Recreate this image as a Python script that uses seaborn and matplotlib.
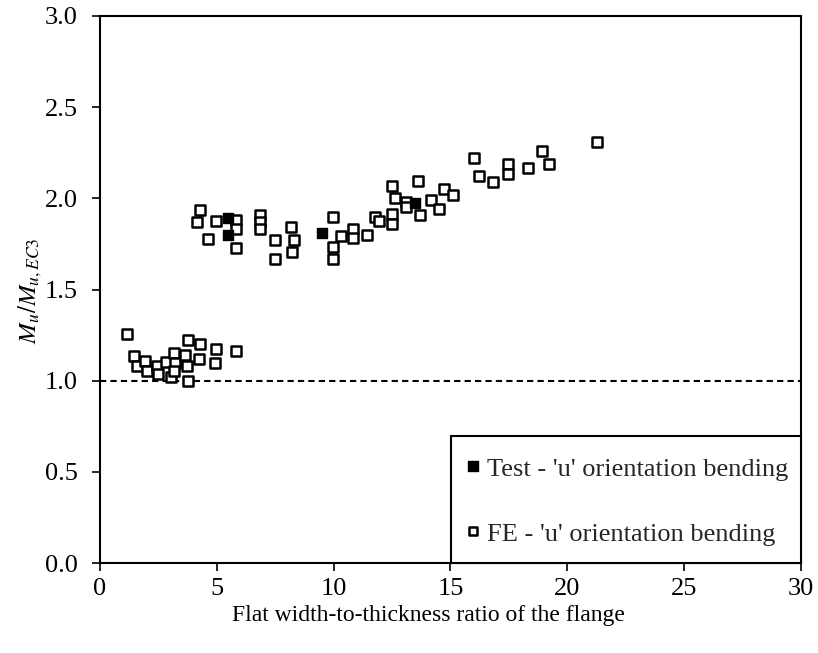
import matplotlib
matplotlib.use("Agg")
import matplotlib.pyplot as plt
import seaborn as sns
import pandas as pd

# Finite-element results: flat width-to-thickness ratio vs. Mu/Mu,EC3
fe_x = [1.14, 1.45, 1.58, 1.93, 2.03, 2.46, 2.47, 2.82, 3.15, 3.02, 3.20, 3.18,
        3.66, 3.75, 3.72, 3.77, 4.28, 4.24, 4.96, 4.92, 5.81,
        4.28, 4.14, 4.96, 4.64, 5.82, 5.82, 5.82, 6.85, 6.85, 6.85, 7.49, 7.47,
        8.17, 8.31, 8.20, 9.98, 9.98, 9.98, 10.31, 10.84, 10.81, 11.44, 11.77,
        11.93, 12.48, 12.48, 12.48, 12.62, 13.09, 13.10, 13.62, 13.69, 14.16,
        14.52, 14.72, 15.12, 16.00, 16.23, 16.83, 17.47, 17.47, 18.31, 18.92,
        19.23, 21.28]
fe_y = [1.255, 1.137, 1.083, 1.110, 1.055, 1.083, 1.037, 1.105, 1.152, 1.020, 1.097, 1.055,
        1.140, 1.225, 1.080, 0.998, 1.200, 1.117, 1.172, 1.095, 1.163,
        1.936, 1.869, 1.876, 1.776, 1.882, 1.830, 1.726, 1.906, 1.868, 1.832, 1.770, 1.665,
        1.845, 1.772, 1.705, 1.900, 1.735, 1.666, 1.794, 1.830, 1.785, 1.800, 1.900,
        1.876, 1.916, 1.862, 2.065, 2.000, 1.980, 1.950, 2.095, 1.910, 1.990,
        1.940, 2.050, 2.020, 2.220, 2.125, 2.088, 2.190, 2.132, 2.165, 2.258,
        2.190, 2.310]

# Experimental results
test_x = [5.46, 5.46, 9.49, 13.48]
test_y = [1.891, 1.800, 1.809, 1.975]

series_labels = ["Test - 'u' orientation bending", "FE - 'u' orientation bending"]
x_label = "Flat width-to-thickness ratio of the flange"
y_label = r"$M_u/M_{u,EC3}$"
x_ticks = [0, 5, 10, 15, 20, 25, 30]
y_ticks = [0.0, 0.5, 1.0, 1.5, 2.0, 2.5, 3.0]
reference_ratio = 1.0

sns.set_theme(style="white")
plt.rcParams["font.family"] = ["Liberation Serif", "DejaVu Serif"]
plt.rcParams["mathtext.fontset"] = "stix"

fe_df = pd.DataFrame({"ratio": fe_x, "moment": fe_y})
test_df = pd.DataFrame({"ratio": test_x, "moment": test_y})

fig = plt.figure(figsize=(8.18, 6.53), dpi=100)
ax = fig.add_axes([0.1222, 0.1378, 0.8570, 0.8377])

ax.axhline(reference_ratio, color="black", linestyle=(0, (3, 2)), linewidth=1.5, zorder=1)

sns.scatterplot(data=fe_df, x="ratio", y="moment", ax=ax, marker="s", s=42,
                facecolor="white", edgecolor="black", linewidth=1.8,
                label=series_labels[1], zorder=3)
sns.scatterplot(data=test_df, x="ratio", y="moment", ax=ax, marker="s", s=52,
                color="black", edgecolor="black", linewidth=1.0,
                label=series_labels[0], zorder=4)

ax.set_xlim(0, 30)
ax.set_ylim(0, 3.0)
ax.set_xticks(x_ticks)
ax.set_yticks(y_ticks)
ax.set_xticklabels([str(t) for t in x_ticks])
ax.set_yticklabels([f"{t:.1f}" for t in y_ticks])
ax.tick_params(axis="both", direction="out", length=6, width=1.2, color="black",
               labelsize=19, labelcolor="black")
ax.tick_params(axis="y", pad=10)
ax.tick_params(axis="x", pad=5)
ax.tick_params(axis="both", which="both", bottom=True, left=True, top=False, right=False)

for side in ["left", "right", "top", "bottom"]:
    ax.spines[side].set_visible(True)
    ax.spines[side].set_color("black")
    ax.spines[side].set_linewidth(1.5)

ax.set_xlabel(x_label, fontsize=17, color="black")
ax.xaxis.set_label_coords(0.469, -0.076)
ax.set_ylabel(y_label, fontsize=18, color="black")
ax.yaxis.set_label_coords(-0.080, 0.497)

handles, labels = ax.get_legend_handles_labels()
order = [labels.index(series_labels[0]), labels.index(series_labels[1])]
leg = ax.legend([handles[i] for i in order], [labels[i] for i in order],
                loc="lower right", bbox_to_anchor=(1.0, 0.0), frameon=True,
                fancybox=False, edgecolor="black", fontsize=19,
                labelspacing=1.1, handletextpad=0.15, handlelength=0.7,
                handleheight=1.7, borderpad=0.5, borderaxespad=0.0,
                markerscale=0.9, scatteryoffsets=[0.27])
leg.get_frame().set_linewidth(1.5)
leg.get_frame().set_facecolor("white")
leg.get_frame().set_alpha(1.0)

fig.savefig("out.png", dpi=100, facecolor="white")
